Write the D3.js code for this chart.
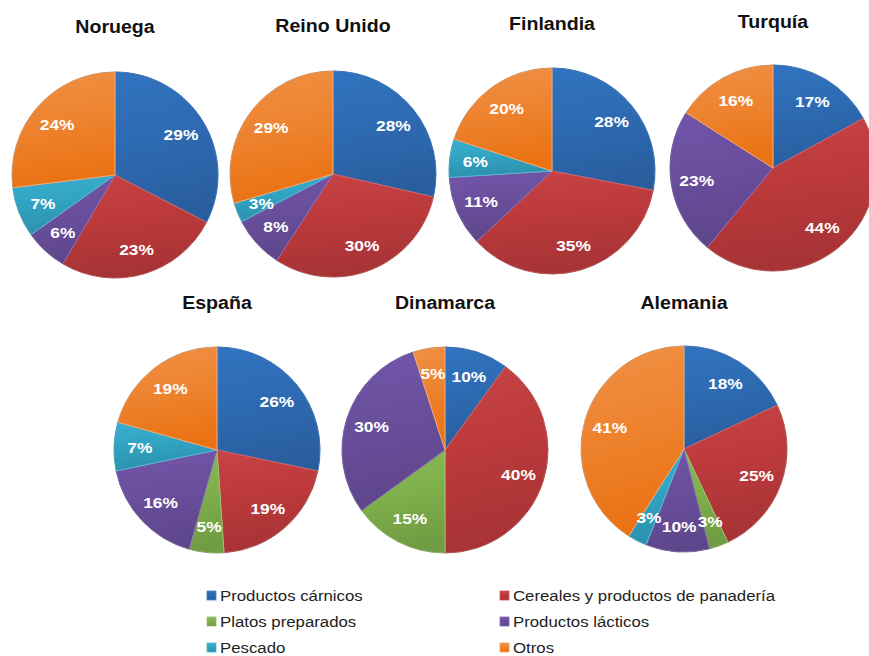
<!DOCTYPE html>
<html>
<head>
<meta charset="utf-8">
<script src="https://cdn.jsdelivr.net/npm/d3@7"></script>
<style>
  html, body { margin: 0; padding: 0; background: #fff; }
  svg { display: block; }
</style>
</head>
<body>
<svg id="chart" width="869" height="656"></svg>
<script>
// slice order, clockwise from 12 o'clock
const categories = ["Productos cárnicos", "Cereales y productos de panadería", "Platos preparados",
    "Productos lácticos", "Pescado", "Otros"];
const countries = ["Noruega", "Reino Unido", "Finlandia", "Turquía", "España", "Dinamarca", "Alemania"];

const noruega    = [29, 23, 0, 6, 7, 24];
const reinoUnido = [28, 30, 0, 8, 3, 29];
const finlandia  = [28, 35, 0, 11, 6, 20];
const turquia    = [17, 44, 0, 23, 0, 16];
const espana     = [26, 19, 5, 16, 7, 19];
const dinamarca  = [10, 40, 15, 30, 0, 5];
const alemania   = [18, 25, 3, 10, 3, 41];
const shares = [noruega, reinoUnido, finlandia, turquia, espana, dinamarca, alemania];

const colors = ["#2e6bb3", "#bd3a3c", "#7fb14b", "#6a4f9d", "#32a4c4", "#ee8431"];

// pie placement (center x, center y, title y)
const layout = [
    { cx: 115, cy: 175, ty: 33 },
    { cx: 333, cy: 174, ty: 32 },
    { cx: 552, cy: 171, ty: 30 },
    { cx: 773, cy: 168, ty: 28 },
    { cx: 217, cy: 450, ty: 309 },
    { cx: 445, cy: 450, ty: 309 },
    { cx: 684, cy: 449, ty: 309 },
];
const radius = 103;
const stretch = 1.12; // the picture's text is a bit wide

const svg = d3.select("#chart");
const defs = svg.append("defs");

colors.forEach((c, i) => {
    const base = d3.hsl(c);
    const g = defs.append("linearGradient")
        .attr("id", "grad" + i)
        .attr("x1", 0).attr("y1", 0).attr("x2", 0.15).attr("y2", 1);
    g.append("stop").attr("offset", "0%").attr("stop-color", base.brighter(0.2));
    g.append("stop").attr("offset", "45%").attr("stop-color", c);
    g.append("stop").attr("offset", "100%").attr("stop-color", base.darker(0.35));
});

const pie = d3.pie().sort(null).value(d => d);
const arc = d3.arc().innerRadius(0).outerRadius(radius);
const labelArc = d3.arc().innerRadius(radius * 0.75).outerRadius(radius * 0.75);

function wideText(parent, x, y) {
    return parent.append("text")
        .attr("transform", `translate(${x},${y}) scale(${stretch},1)`)
        .attr("font-family", "Liberation Sans, Arial, sans-serif");
}

shares.forEach((values, k) => {
    const pos = layout[k];

    wideText(svg, pos.cx, pos.ty)
        .attr("text-anchor", "middle")
        .attr("font-weight", "bold")
        .attr("font-size", 17.5)
        .attr("fill", "#111")
        .text(countries[k]);

    const g = svg.append("g").attr("transform", `translate(${pos.cx},${pos.cy})`);
    const arcs = pie(values).map((d, i) => ({ ...d, cat: i })).filter(d => d.value > 0);

    g.selectAll("path.slice")
        .data(arcs)
        .join("path")
        .attr("class", "slice")
        .attr("d", arc)
        .attr("fill", d => `url(#grad${d.cat})`)
        .attr("stroke", d => d3.hsl(colors[d.cat]).brighter(0.6))
        .attr("stroke-width", 1)
        .attr("stroke-linejoin", "round");

    // thin outer rim
    g.append("circle")
        .attr("r", radius)
        .attr("fill", "none")
        .attr("stroke", "rgba(0,0,0,0.18)")
        .attr("stroke-width", 0.8);

    arcs.forEach(d => {
        const [lx, ly] = labelArc.centroid(d);
        wideText(g, lx, ly)
            .attr("text-anchor", "middle")
            .attr("dominant-baseline", "central")
            .attr("font-weight", "bold")
            .attr("font-size", 15.5)
            .attr("fill", "#fff")
            .text(d.value + "%");
    });
});

// legend, two columns
const legendCols = [207, 500];
const legendRows = [596, 622, 648];
const legend = svg.append("g");
categories.forEach((name, i) => {
    const x = legendCols[i % 2];
    const y = legendRows[Math.floor(i / 2)];
    legend.append("rect")
        .attr("x", x).attr("y", y - 5)
        .attr("width", 9).attr("height", 9)
        .attr("fill", `url(#grad${i})`)
        .attr("stroke", d3.hsl(colors[i]).brighter(0.5))
        .attr("stroke-width", 0.8);
    wideText(legend, x + 13, y)
        .attr("dominant-baseline", "central")
        .attr("font-size", 15)
        .attr("fill", "#222")
        .text(name);
});
</script>
</body>
</html>
